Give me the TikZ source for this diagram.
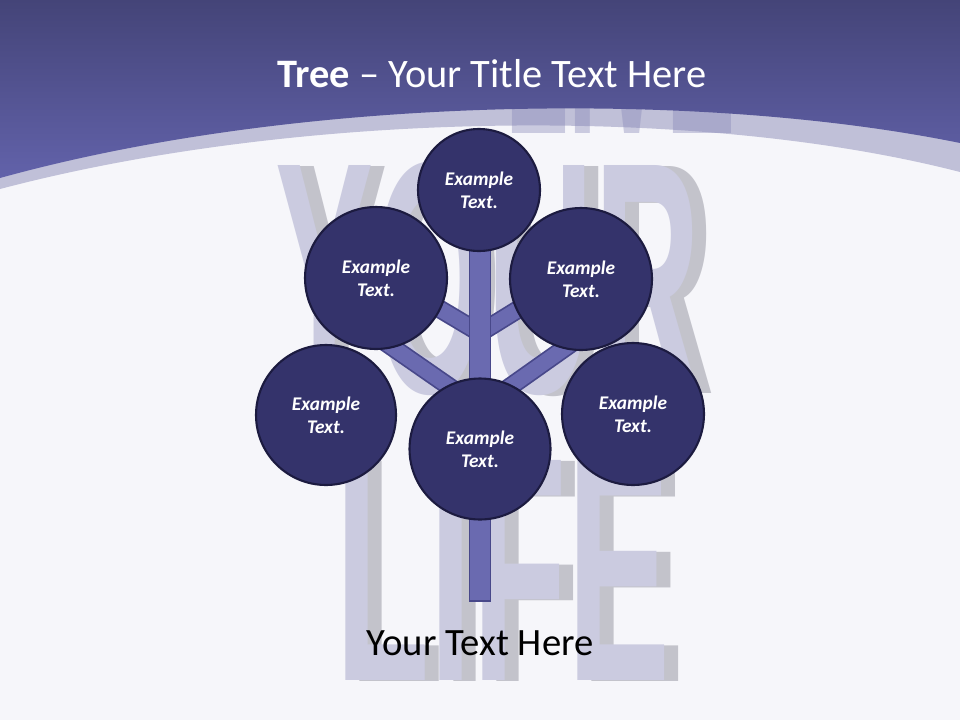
\documentclass[tikz,border=0pt]{standalone}
\usepackage{fontspec}
\setmainfont{Carlito}
\newfontfamily\ghostfont{Liberation Sans}
\usepackage{tikz}
\usepackage{graphicx}
\usetikzlibrary{calc}
\definecolor{headtop}{RGB}{68,68,120}
\definecolor{headbottom}{RGB}{98,98,170}
\definecolor{stripecolor}{RGB}{192,192,216}
\definecolor{slidebg}{RGB}{246,246,250}
\definecolor{ghostcolor}{RGB}{203,203,224}
\definecolor{ghostshade}{RGB}{195,195,203}
\definecolor{ghostdark}{RGB}{136,136,184}
\definecolor{leafcolor}{RGB}{52,51,107}
\definecolor{leafline}{RGB}{28,27,64}
\definecolor{trunkcolor}{RGB}{106,106,176}
\definecolor{trunkline}{RGB}{72,72,138}
\pgfdeclarelayer{back}
\pgfdeclarelayer{branches}
\pgfsetlayers{back,branches,main}
\tikzstyle{leaf} = [
    circle,
    draw=leafline,
    fill=leafcolor,
    line width=1.2pt,
    text=white,
    font=\fontsize{11}{13}\selectfont\bfseries\itshape,
    align=center,
    inner sep=0pt
    ]
\tikzstyle{trunkbar} = [
    rectangle,
    draw=trunkline,
    fill=trunkcolor,
    line width=1pt,
    minimum width=0.42cm,
    minimum height=7.12cm,
    inner sep=0pt
    ]
\tikzstyle{branch} = [
    draw=trunkline,
    line width=1pt,
    double=trunkcolor,
    double distance=8.6pt,
    shorten >=-12pt
    ]
\tikzstyle{ghost} = [
    inner sep=0pt,
    anchor=base west,
    text=ghostcolor
    ]
\begin{document}
\begin{tikzpicture}[x=0.02cm, y=-0.02cm]
\useasboundingbox (0,0) rectangle (960,720);
\begin{pgfonlayer}{back}
\clip (0,0) rectangle (960,720);
\fill[slidebg] (0,0) rectangle (960,720);
\fill[stripecolor] (0,0) -- (960,0) -- (960,172) .. controls (700,105) and (300,110) .. (0,189) -- cycle;
% letters behind the tree
\node[ghost, text=ghostdark, opacity=0.4] (live) at (505,133) {\resizebox{4.6cm}{4.5cm}{\ghostfont\bfseries LIVE}};
\node[ghost, text=ghostshade] (yourshade) at (289,393) {\resizebox{8.5cm}{4.6cm}{\ghostfont\bfseries YOUR}};
\node[ghost] (your) at (275,392) {\resizebox{8.5cm}{4.6cm}{\ghostfont\bfseries YOUR}};
\node[ghost, text=ghostshade] (lifeshade) at (349,681) {\resizebox{6.7cm}{4.4cm}{\ghostfont\bfseries LIFE}};
\node[ghost] (life) at (335,680) {\resizebox{6.7cm}{4.4cm}{\ghostfont\bfseries LIFE}};
\shade[top color=headtop, bottom color=headbottom] (0,0) -- (960,0) -- (960,143) .. controls (700,90) and (300,95) .. (0,178) -- cycle;
\end{pgfonlayer}

\node[text=white, font=\fontsize{23}{28}\selectfont, anchor=base] (title) at (492,87) {\textbf{Tree} -- Your Title Text Here};

\node[trunkbar] (trunk) at (480,423) {};
\coordinate (fork1) at (480,333);
\coordinate (fork2) at (480,408);

\node[leaf, minimum size=2.44cm] (top) at (479,190) {Example\\Text.};
\node[leaf, minimum size=2.84cm] (ul) at (376,278) {Example\\Text.};
\node[leaf, minimum size=2.84cm] (ur) at (581,279) {Example\\Text.};
\node[leaf, minimum size=2.80cm] (ll) at (326,415) {Example\\Text.};
\node[leaf, minimum size=2.84cm] (lr) at (633,414) {Example\\Text.};
\node[leaf, minimum size=2.82cm] (bot) at (480,449) {Example\\Text.};

\begin{pgfonlayer}{branches}
\draw[branch] (fork1) -- (ul.-26);
\draw[branch] (fork1) -- (ur.-154);
\draw[branch] (fork2) -- (ul.-76);
\draw[branch] (fork2) -- (ur.-104);
\end{pgfonlayer}

\node[font=\fontsize{22}{26}\selectfont, anchor=base] (caption) at (480,655) {Your Text Here};
\end{tikzpicture}
\end{document}
